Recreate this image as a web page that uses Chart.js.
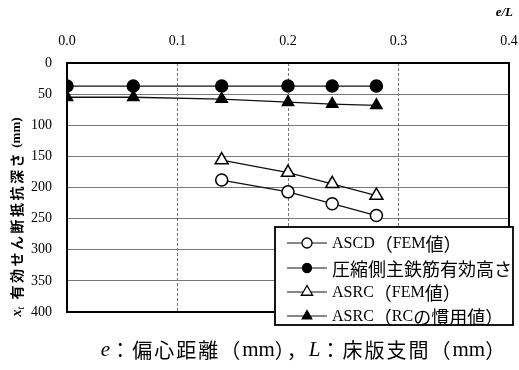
<!DOCTYPE html>
<html>
<head>
<meta charset="utf-8">
<script src="https://cdn.jsdelivr.net/npm/chart.js@4.4.0/dist/chart.umd.min.js"></script>
<style>
  html, body { margin: 0; padding: 0; background: #fff; }
  #wrap { width: 519px; height: 370px; }
</style>
</head>
<body>
<div id="wrap"><canvas id="myChart"></canvas></div>
<script>
// data
const eL_all = [0, 0.06, 0.14, 0.2, 0.24, 0.28];
const eL_fem = [0.14, 0.2, 0.24, 0.28];
const ascd_fem = [188, 207, 226, 245];
const main_bar = [37, 37, 37, 37, 37, 37];
const asrc_fem = [156, 176, 194, 213];
const asrc_rc = [55, 55, 58, 63, 66, 68];
const x_ticks = ['0.0', '0.1', '0.2', '0.3', '0.4'];
const y_ticks = [0, 50, 100, 150, 200, 250, 300, 350, 400];
const series_labels = ['ASCD（FEM値）', '圧縮側主鉄筋有効高さ', 'ASRC（FEM値）', 'ASRC（RCの慣用値）'];

const SERIF = '"Liberation Serif", "DejaVu Serif", serif';
const CJK = '"Noto Sans CJK JP", sans-serif';

function pts(xs, ys) {
    return xs.map((x, i) => ({ x: x, y: ys[i] }));
}

function isCJK(ch) { return ch.charCodeAt(0) > 0x2e80; }

// draws latin and CJK parts of a string with different fonts
function drawMixed(ctx, text, x, y, latinFont, cjkFont, measureOnly, cjkSpacing) {
    let runs = [], cur = '', curC = null;
    for (const ch of text) {
        const c = isCJK(ch);
        if (curC !== null && c !== curC) { runs.push([cur, curC]); cur = ''; }
        cur += ch; curC = c;
    }
    if (cur) runs.push([cur, curC]);
    runs.forEach(([t, c]) => {
        ctx.font = c ? cjkFont : latinFont;
        ctx.letterSpacing = (c && cjkSpacing) ? cjkSpacing + 'px' : '0px';
        if (!measureOnly) ctx.fillText(t, x, y);
        x += ctx.measureText(t).width;
    });
    ctx.letterSpacing = '0px';
    return x;
}

const common = { borderColor: '#111', borderWidth: 1.3, pointBorderColor: '#000', pointBorderWidth: 1.5, tension: 0 };

const data = {
    datasets: [
        Object.assign({ label: series_labels[0], data: pts(eL_fem, ascd_fem),
            pointStyle: 'circle', pointRadius: 6, pointBackgroundColor: '#fff' }, common),
        Object.assign({ label: series_labels[1], data: pts(eL_all, main_bar),
            pointStyle: 'circle', pointRadius: 6, pointBackgroundColor: '#000' }, common),
        Object.assign({ label: series_labels[2], data: pts(eL_fem, asrc_fem),
            pointStyle: 'triangle', pointRadius: 7.5, pointBackgroundColor: '#fff' }, common),
        Object.assign({ label: series_labels[3], data: pts(eL_all, asrc_rc),
            pointStyle: 'triangle', pointRadius: 6.5, pointBackgroundColor: '#000' }, common)
    ]
};

// frame, axis titles, legend box and caption
const decorations = {
    id: 'decorations',
    afterDatasetsDraw(chart) {
        const { ctx, chartArea: { top, bottom, left, right } } = chart;
        ctx.save();
        ctx.strokeStyle = '#000';
        ctx.lineWidth = 2;
        ctx.strokeRect(left, top, right - left, bottom - top);

        // e/L
        ctx.fillStyle = '#000';
        ctx.textBaseline = 'middle';
        ctx.textAlign = 'right';
        ctx.font = 'italic bold 13px ' + SERIF;
        ctx.fillText('e/L', 513, 13);

        // y title, rotated
        ctx.save();
        ctx.translate(17, 217);
        ctx.rotate(-Math.PI / 2);
        ctx.textAlign = 'left';
        const rest = ' 有効せん断抵抗深さ (mm)';
        const lat = 'bold 13px ' + SERIF, cj = 'bold 14px ' + CJK;
        ctx.font = 'italic bold 14px ' + SERIF;
        const wx = ctx.measureText('x').width;
        ctx.font = 'italic 10px ' + SERIF;
        const wt = ctx.measureText('t').width;
        const wr = drawMixed(ctx, rest, 0, 0, lat, cj, true, 2.5) + 4;
        let sx = -(wx + wt + wr) / 2;
        ctx.font = 'italic bold 14px ' + SERIF;
        ctx.fillText('x', sx, 0);
        sx += wx;
        ctx.font = 'italic 10px ' + SERIF;
        ctx.fillText('t', sx, 4);
        sx += wt + 4;
        drawMixed(ctx, rest, sx, 0, lat, cj, false, 2.5);
        ctx.restore();

        // legend
        const bx = 275, by = 227, bw = 238, bh = 98;
        ctx.fillStyle = '#fff';
        ctx.fillRect(bx, by, bw, bh);
        ctx.lineWidth = 1.8;
        ctx.strokeRect(bx, by, bw, bh);
        const rows = [243, 268, 292, 316];
        const radii = [5, 4.5, 6.5, 5.5];
        chart.data.datasets.forEach((ds, i) => {
            const y = rows[i];
            ctx.beginPath();
            ctx.strokeStyle = '#111';
            ctx.lineWidth = 1;
            ctx.moveTo(287, y);
            ctx.lineTo(327, y);
            ctx.stroke();
            ctx.lineWidth = 1.3;
            ctx.strokeStyle = '#000';
            ctx.fillStyle = ds.pointBackgroundColor;
            Chart.helpers.drawPoint(ctx, { pointStyle: ds.pointStyle, radius: radii[i], borderWidth: 1.3, rotation: 0 }, 307, y);
            ctx.fillStyle = '#000';
            ctx.textAlign = 'left';
            ctx.textBaseline = 'middle';
            drawMixed(ctx, ds.label, 332, y + 1, '16px ' + SERIF, '18px ' + CJK);
        });

        // caption
        const cy = 350;
        const runs = [
            ['e', 'italic 21px ' + SERIF, 0], ['：偏心距離（', '20px ' + CJK, 2], ['mm', '21px ' + SERIF, 0],
            ['），', '20px ' + CJK, 2], ['L', 'italic 21px ' + SERIF, 0], ['：床版支間（', '20px ' + CJK, 2],
            ['mm', '21px ' + SERIF, 0], ['）', '20px ' + CJK, 0]
        ];
        let tw = 0;
        runs.forEach(r => { ctx.font = r[1]; ctx.letterSpacing = r[2] + 'px'; tw += ctx.measureText(r[0]).width; });
        let cx = 303 - tw / 2;
        ctx.textAlign = 'left';
        runs.forEach(r => {
            ctx.font = r[1];
            ctx.letterSpacing = r[2] + 'px';
            ctx.fillText(r[0], cx, cy);
            cx += ctx.measureText(r[0]).width;
        });
        ctx.letterSpacing = '0px';
        ctx.restore();
    }
};

const config = {
    type: 'line',
    data: data,
    options: {
        responsive: true,
        maintainAspectRatio: false,
        animation: false,
        layout: { padding: { top: 0, left: 0, right: 10, bottom: 58 } },
        plugins: {
            legend: { display: false },
            tooltip: { enabled: false }
        },
        scales: {
            x: {
                type: 'linear',
                position: 'top',
                min: 0,
                max: 0.4,
                afterFit(scale) {
                    scale.height = 63;
                    scale.paddingLeft = 0;
                    scale.paddingRight = 0;
                },
                afterBuildTicks(scale) { scale.ticks = x_ticks.map(t => ({ value: parseFloat(t) })); },
                grid: { color: '#777', lineWidth: 1, drawTicks: false },
                border: { display: false, dash: [3, 2] },
                ticks: {
                    padding: 13,
                    color: '#000',
                    font: { family: SERIF, size: 14 },
                    maxRotation: 0,
                    callback: (v, i) => x_ticks[i]
                }
            },
            y: {
                type: 'linear',
                reverse: true,
                min: 0,
                max: 400,
                afterFit(scale) {
                    scale.width = 67;
                    scale.paddingTop = 0;
                    scale.paddingBottom = 0;
                },
                afterBuildTicks(scale) { scale.ticks = y_ticks.map(v => ({ value: v })); },
                grid: { color: '#777', lineWidth: 1, drawTicks: false },
                border: { display: false },
                ticks: {
                    padding: 15,
                    color: '#000',
                    font: { family: SERIF, size: 14 }
                }
            }
        }
    },
    plugins: [decorations]
};

const myChart = new Chart(document.getElementById('myChart'), config);
</script>
</body>
</html>
